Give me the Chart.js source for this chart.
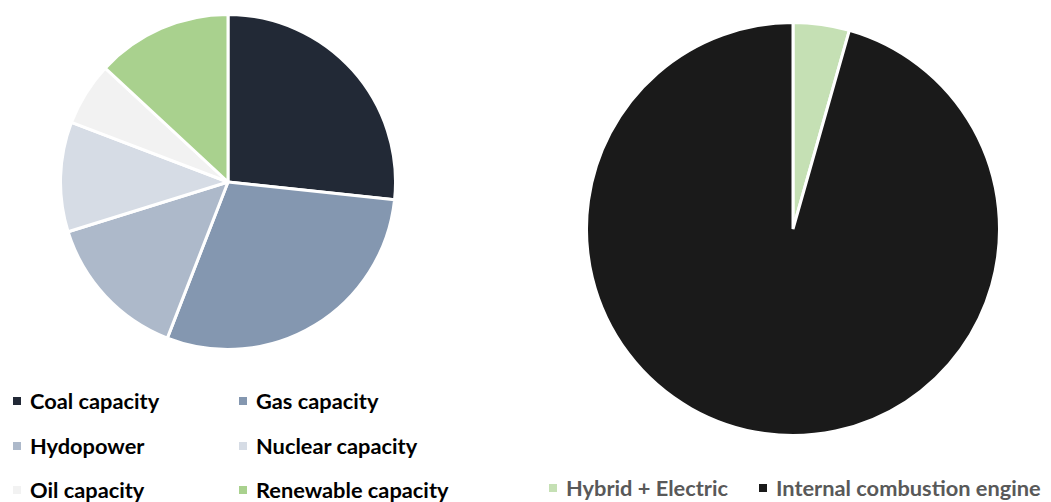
<!DOCTYPE html>
<html>
<head>
<meta charset="utf-8">
<script src="https://cdn.jsdelivr.net/npm/chart.js@4/dist/chart.umd.min.js"></script>
<style>
  body { margin: 0; background: #fff; width: 1051px; height: 502px; overflow: hidden; position: relative; font-family: Lato, "Open Sans", sans-serif; }
  .box { position: absolute; }
  .legend-item { position: absolute; font-weight: bold; font-size: 21.8px; white-space: nowrap; line-height: 24px; }
  .legend-item span.sw { display: inline-block; width: 8px; height: 8px; margin-right: 9px; vertical-align: middle; position: relative; top: -2px; }
</style>
</head>
<body>
<div class="box" style="left:59px; top:13px; width:338px; height:338px;"><canvas id="powerChart"></canvas></div>
<div class="box" style="left:585px; top:21px; width:416px; height:416px;"><canvas id="carChart"></canvas></div>
<div id="powerLegend"></div>
<div id="carLegend"></div>
<script>
// Left pie: power capacity mix (%)
const powerLabels = ["Coal capacity", "Gas capacity", "Hydopower", "Nuclear capacity", "Oil capacity", "Renewable capacity"];
const powerValues = [26.7, 29.2, 14.3, 10.6, 6.1, 13.1];
const powerColors = ["#222936", "#8497B0", "#ADB9CA", "#D6DCE5", "#F2F2F2", "#A9D18E"];

// Right pie: car engines (%)
const carLabels = ["Hybrid + Electric", "Internal combustion engine"];
const carValues = [4.4, 95.6];
const carColors = ["#C5E0B4", "#1A1A1A"];

const pieOptions = {
    responsive: true,
    maintainAspectRatio: false,
    animation: false,
    layout: { padding: 0 },
    plugins: {
        legend: { display: false },
        tooltip: { enabled: false }
    }
};

new Chart(document.getElementById("powerChart"), {
    type: "pie",
    data: {
        labels: powerLabels,
        datasets: [{ data: powerValues, backgroundColor: powerColors, borderColor: "#fff", borderWidth: 3 }]
    },
    options: pieOptions
});

new Chart(document.getElementById("carChart"), {
    type: "pie",
    data: {
        labels: carLabels,
        datasets: [{ data: carValues, backgroundColor: carColors, borderColor: "#fff", borderWidth: 3 }]
    },
    options: pieOptions
});

// legends built as html so the two columns line up like the original
const buildLegend = (el, labels, colors, spots, textColor) => {
    labels.forEach((label, i) => {
        const item = document.createElement("div");
        item.className = "legend-item";
        item.style.left = spots[i][0] + "px";
        item.style.top = spots[i][1] + "px";
        item.style.color = textColor;
        item.innerHTML = `<span class="sw" style="background:${colors[i]}"></span>${label}`;
        el.appendChild(item);
    });
};

buildLegend(document.getElementById("powerLegend"), powerLabels, powerColors,
    [[13, 389], [239, 389], [13, 434], [239, 434], [13, 478], [239, 478]], "#000");
buildLegend(document.getElementById("carLegend"), carLabels, carColors,
    [[549, 476], [759, 476]], "#595959");
</script>
</body>
</html>
